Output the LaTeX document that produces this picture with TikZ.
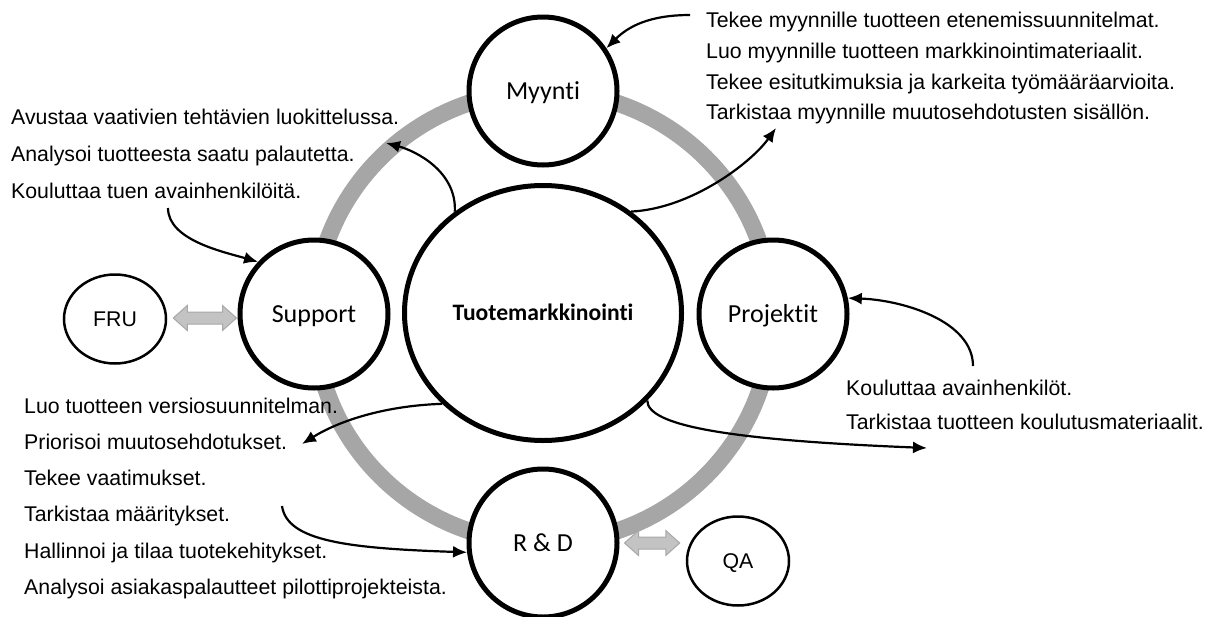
\documentclass[tikz,border=0pt]{standalone}
\usepackage{fontspec}
\setmainfont{Liberation Sans}
\newfontfamily\carlito[Ligatures=NoCommon]{Carlito}
\usetikzlibrary{arrows.meta,calc,shapes.geometric}
\definecolor{ringgray}{HTML}{A6A6A6}
\definecolor{dblfill}{HTML}{C3C3C3}
\definecolor{dbledge}{HTML}{A8A8A8}

% block arrow with heads on both ends, between two points on one horizontal line
\newcommand\twoway[2]{%
  \draw[dbl] let \p1=(#1), \p2=(#2) in
    (\x1,\y1) -- (\x1+14pt,\y1+12.5pt) -- (\x1+14pt,\y1+6pt) -- (\x2-14pt,\y1+6pt)
    -- (\x2-14pt,\y1+12.5pt) -- (\x2,\y1) -- (\x2-14pt,\y1-12.5pt) -- (\x2-14pt,\y1-6pt)
    -- (\x1+14pt,\y1-6pt) -- (\x1+14pt,\y1-12.5pt) -- cycle;}

\begin{document}
\begin{tikzpicture}[x=1pt,y=-1pt,
  role/.style={circle,draw=black,line width=5pt,fill=white,minimum size=148pt,inner sep=0pt,
    text height=17pt,text depth=0pt,font=\carlito\fontsize{26}{30}\selectfont},
  core/.style={ellipse,draw=black,line width=5pt,fill=white,minimum width=277pt,minimum height=255pt,
    inner sep=0pt,text height=15pt,text depth=0pt,font=\carlito\bfseries\fontsize{23.6}{28}\selectfont},
  side/.style={ellipse,draw=black,line width=2.5pt,fill=white,minimum width=102pt,minimum height=89pt,
    inner sep=0pt,text height=15pt,text depth=0pt,font=\fontsize{21.3}{25}\selectfont},
  note/.style={anchor=base west,inner sep=0pt,font=\fontsize{21.3}{25}\selectfont},
  link/.style={line width=2.2pt,-{Latex[length=14pt,width=12pt]}},
  dbl/.style={fill=dblfill,draw=dbledge,line width=1pt,line join=miter}
]
\useasboundingbox (0,0) rectangle (1221,616);

% grey ring linking the four roles
\draw[ringgray,line width=17pt] (543,317) ellipse [x radius=229, y radius=226];

% roles
\node[role] (myy) at (543,91) {Myynti};
\node[role] (sup) at (314,314) {Support};
\node[role] (prj) at (773,314) {Projektit};
\node[role] (rd)  at (543,543) {R \& D};
\node[core] (cen) at (543,313) {Tuotemarkkinointi};
\node[side] (fru) at (115,319) {FRU};
\node[side] (qa)  at (738,561) {QA};

% task lists
\node[note] (tr1) at (706,27)  {Tekee myynnille tuotteen etenemissuunnitelmat.};
\node[note] (tr2) at (706,58)  {Luo myynnille tuotteen markkinointimateriaalit.};
\node[note] (tr3) at (706,89)  {Tekee esitutkimuksia ja karkeita työmääräarvioita.};
\node[note] (tr4) at (706,119) {Tarkistaa myynnille muutosehdotusten sisällön.};

\node[note] (tl1) at (11,124) {Avustaa vaativien tehtävien luokittelussa.};
\node[note] (tl2) at (11,161) {Analysoi tuotteesta saatu palautetta.};
\node[note] (tl3) at (11,198) {Kouluttaa tuen avainhenkilöitä.};

\node[note] (pr1) at (846,395) {Kouluttaa avainhenkilöt.};
\node[note] (pr2) at (846,429) {Tarkistaa tuotteen koulutusmateriaalit.};

\node[note] (bl1) at (24,413) {Luo tuotteen versiosuunnitelman.};
\node[note] (bl2) at (24,449) {Priorisoi muutosehdotukset.};
\node[note] (bl3) at (24,485) {Tekee vaatimukset.};
\node[note] (bl4) at (24,521) {Tarkistaa määritykset.};
\node[note] (bl5) at (24,558) {Hallinnoi ja tilaa tuotekehitykset.};
\node[note] (bl6) at (24,594) {Analysoi asiakaspalautteet pilottiprojekteista.};

% free ends of the curved arrows
\coordinate (s1) at (690,15);
\coordinate (e2) at (776,128);
\coordinate (e3) at (386,143);
\coordinate (s4) at (168,208);
\coordinate (s5) at (973,366);
\coordinate (e6) at (927,448);
\coordinate (e7) at (302,444);
\coordinate (s8) at (282,506);

\draw[link] (s1) .. controls +(-40,0) and +(22,-22) .. (myy.34);
\draw[link] (cen.49) .. controls +(60,-3) and +(-25,35) .. (e2);
\draw[link] (cen.131) .. controls +(2,-40) and +(30,8) .. (e3);
\draw[link] (s4) .. controls +(0,32) and +(-35,-10) .. (sup.137);
\draw[link] (s5) .. controls +(0,-45) and +(55,2) .. (prj.12);
\draw[link] (cen.-40) .. controls +(0,25) and +(-200,-8) .. (e6);
\draw[link] (cen.222) .. controls +(-60,2) and +(35,-22) .. (e7);
\draw[link] (s8) .. controls +(5,35) and +(-120,-4) .. (rd.187);

% two-way links to the outside units
\coordinate (fa) at ($(fru.east)+(6,-1)$);
\coordinate (fb) at ($(sup.west)+(-1,0)$);
\twoway{fa}{fb}
\coordinate (qb) at ($(qa.west)+(-6,4)$);
\coordinate (qa0) at ($(rd.east)+(5,0)$);
\twoway{qa0}{qb}
\end{tikzpicture}
\end{document}
